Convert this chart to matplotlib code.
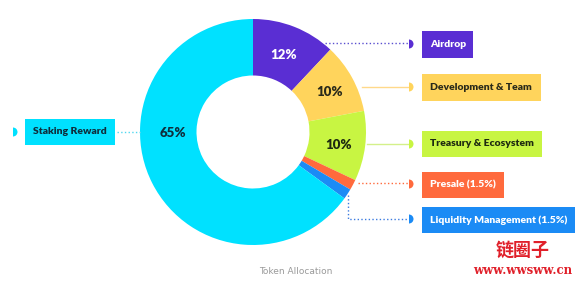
import matplotlib
matplotlib.use("Agg")
import matplotlib.pyplot as plt
from matplotlib.patches import Rectangle, Wedge

# Token allocation data
categories = ["Airdrop", "Development & Team", "Treasury & Ecosystem",
              "Presale (1.5%)", "Liquidity Management (1.5%)", "Staking Reward"]
shares = [12, 10, 10, 1.5, 1.5, 65]
pct_labels = ["12%", "10%", "10%", "", "", "65%"]
colors = ["#5A2ED3", "#FFD45C", "#C8F542", "#FF6A3D", "#1B8BF5", "#00E1FF"]
text_colors = ["#FFFFFF", "#2A2A1A", "#1E2A10", "#FFFFFF", "#FFFFFF", "#0F2E3C"]
line_colors = ["#5A4FD0", "#FFD98A", "#D4F08A", "#FF6A3D", "#3C7BE0", "#50D8F0"]
line_styles = [":", "-", "-", ":", ":", ":"]
title = "Token Allocation"

W, H = 584, 281
fig = plt.figure(figsize=(W / 100, H / 100), dpi=100)
ax = fig.add_axes([0, 0, 1, 1])

def Y(y):
    return H - y

cx, cy, R = 253, Y(132), 113
wedges, _ = ax.pie(shares, colors=colors, startangle=90, counterclock=False,
                   radius=R, center=(cx, cy), frame=True,
                   wedgeprops=dict(width=R * 0.5, linewidth=0))

# percentage labels inside the ring
font = "Lato"
pct_pos = [(284, 55), (330, 92), (339, 145), None, None, (173, 133)]
for lab, pos, tc in zip(pct_labels, pct_pos, text_colors):
    if lab and pos:
        ax.text(pos[0], Y(pos[1]), lab, ha="center", va="center", fontsize=9.5,
                fontweight="heavy", color=tc, family=font)

# label boxes: (x0, y0, x1, y1) in pixel space
boxes = [(422, 31, 473, 58), (422, 74, 541, 101), (422, 131, 542, 157),
         (422, 172, 504, 198), (422, 207, 575, 233), (25, 119, 115, 145)]
for name, c, tc, (x0, y0, x1, y1) in zip(categories, colors, text_colors, boxes):
    ax.add_patch(Rectangle((x0, Y(y1)), x1 - x0, y1 - y0, facecolor=c,
                           edgecolor="none", zorder=3))
    ax.text(x0 + 8, Y((y0 + y1) / 2), name, ha="left", va="center",
            fontsize=7.5, fontweight="heavy", color=tc, family=font, zorder=4)

# connector lines from the ring to the half-disc markers
connectors = [
    [(325, 43), (409, 43)],
    [(362, 87), (409, 87)],
    [(367, 144), (409, 144)],
    [(358, 183), (409, 183)],
    [(348, 195), (348, 219), (409, 219)],
    [(117, 132), (141, 132)],
]
for pts, lc, ls in zip(connectors, line_colors, line_styles):
    xs = [p[0] for p in pts]
    ys = [Y(p[1]) for p in pts]
    ax.plot(xs, ys, color=lc, lw=1.0, ls=ls, zorder=2)

markers = [(409, 44), (409, 87), (409, 144), (409, 184), (409, 219), (13, 132)]
for (mx, my), c in zip(markers, colors):
    ax.add_patch(Wedge((mx, Y(my)), 4.5, -90, 90, facecolor=c,
                       edgecolor="none", zorder=3))

ax.text(296, Y(272), title, ha="center", va="center", fontsize=6.5,
        color="#9A9A9A", family="DejaVu Sans")

# site mark
ax.text(523, Y(250), "链圈子", ha="center", va="center", fontsize=13,
        fontweight="bold", color="#E0202A", family=["Noto Sans CJK SC", "DejaVu Sans"])
ax.text(523, Y(271), "www.wwsww.cn", ha="center", va="center", fontsize=8.5,
        fontweight="bold", color="#E0202A", family="DejaVu Serif")

ax.set_xlim(0, W)
ax.set_ylim(0, H)
ax.set_aspect("auto")
ax.axis("off")

fig.savefig("out.png", dpi=100, facecolor="white")
